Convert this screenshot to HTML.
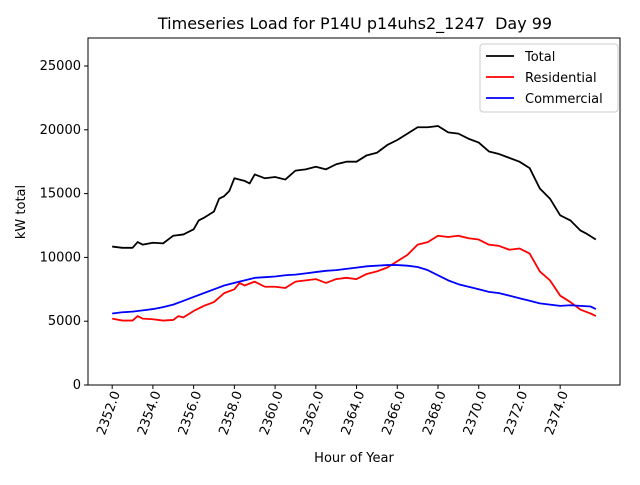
<!DOCTYPE html>
<html><head><meta charset="utf-8"><style>
body{margin:0;background:#fff;font-family:"Liberation Sans","DejaVu Sans",sans-serif}
text{white-space:pre}
</style></head><body>
<svg id="chart" width="640" height="480" xmlns="http://www.w3.org/2000/svg" font-family="DejaVu Sans, Liberation Sans, sans-serif">
<rect width="640" height="480" fill="#fff"/>
<text x="355" y="29" font-size="16" text-anchor="middle">Timeseries Load for P14U p14uhs2_1247  Day 99</text>
<g id="plot"></g>
<text transform="translate(25,212) rotate(-90)" font-size="13" text-anchor="middle">kW total</text>
<text x="354" y="462" font-size="13" text-anchor="middle">Hour of Year</text>
</svg>
<script>
const hours=[2352,2352.5,2353,2353.25,2353.5,2354,2354.5,2355,2355.5,2356,2356.25,2356.5,2357,2357.25,2357.5,2357.75,2358,2358.5,2358.75,2359,2359.5,2360,2360.5,2361,2361.5,2362,2362.5,2363,2363.5,2364,2364.5,2365,2365.5,2366,2366.5,2367,2367.5,2368,2368.5,2369,2369.5,2370,2370.5,2371,2371.5,2372,2372.5,2373,2373.5,2374,2374.5,2375,2375.25,2375.75];
const total=[10850,10750,10750,11200,11000,11150,11100,11700,11800,12200,12900,13100,13600,14600,14800,15200,16200,16000,15800,16500,16200,16300,16100,16800,16900,17100,16900,17300,17500,17500,18000,18200,18800,19200,19700,20200,20200,20300,19800,19700,19300,19000,18300,18100,17800,17500,17000,15400,14600,13300,12900,12100,11900,11400];
const resHours=[2352,2352.5,2353,2353.25,2353.5,2354,2354.5,2355,2355.25,2355.5,2356,2356.5,2357,2357.5,2358,2358.25,2358.5,2359,2359.5,2360,2360.5,2361,2361.5,2362,2362.5,2363,2363.5,2364,2364.5,2365,2365.5,2366,2366.5,2367,2367.5,2368,2368.5,2369,2369.5,2370,2370.5,2371,2371.5,2372,2372.5,2373,2373.5,2374,2374.5,2375,2375.5,2375.75];
const residential=[5200,5050,5050,5400,5200,5150,5050,5100,5400,5300,5800,6200,6500,7200,7500,8000,7800,8100,7700,7700,7600,8100,8200,8300,8000,8300,8400,8300,8700,8900,9200,9700,10200,11000,11200,11700,11600,11700,11500,11400,11000,10900,10600,10700,10300,8900,8200,7000,6500,5900,5600,5400];
const comHours=[2352,2352.5,2353,2353.5,2354,2354.5,2355,2355.5,2356,2356.5,2357,2357.5,2358,2358.5,2359,2359.5,2360,2360.5,2361,2361.5,2362,2362.5,2363,2363.5,2364,2364.5,2365,2365.5,2366,2366.5,2367,2367.5,2368,2368.5,2369,2369.5,2370,2370.5,2371,2371.5,2372,2372.5,2373,2373.5,2374,2374.5,2375,2375.5,2375.75];
const commercial=[5600,5700,5750,5850,5950,6100,6300,6600,6900,7200,7500,7800,8000,8200,8400,8450,8500,8600,8650,8750,8850,8950,9000,9100,9200,9300,9350,9400,9400,9350,9250,9000,8600,8200,7900,7700,7500,7300,7200,7000,6800,6600,6400,6300,6200,6250,6200,6150,5950];
const xTicks=[2352,2354,2356,2358,2360,2362,2364,2366,2368,2370,2372,2374];
const yTicks=[0,5000,10000,15000,20000,25000];
const L=88,R=620,T=38,B=385,X0=2350.8125,X1=2376.9375,Y1=27194;
const xs=v=>L+(v-X0)/(X1-X0)*(R-L), ys=v=>B-v/Y1*(B-T);
const NS="http://www.w3.org/2000/svg", g=document.getElementById('plot');
function mk(t,a,p){const e=document.createElementNS(NS,t);for(const k in a)e.setAttribute(k,a[k]);(p||g).appendChild(e);return e;}
function line(h,v,c,name){const e=mk('polyline',{points:h.map((x,i)=>xs(x)+','+ys(v[i])).join(' '),fill:'none',stroke:c,'stroke-width':1.8,'stroke-linejoin':'round'});

}
line(hours,total,'#000','total-line');
line(resHours,residential,'#f00','residential-line');
line(comHours,commercial,'#00f','commercial-line');
const fr=mk('rect',{x:L,y:T,width:R-L,height:B-T,fill:'none',stroke:'#000','stroke-width':1});


yTicks.forEach(v=>{const y=ys(v);mk('line',{x1:L-4,x2:L,y1:y,y2:y,stroke:'#000'});
const t=mk('text',{x:L-7,y:y+4,'font-size':13,'text-anchor':'end'});t.textContent=v;

});
xTicks.forEach(v=>{const x=xs(v);mk('line',{x1:x,x2:x,y1:B,y2:B+4,stroke:'#000'});
const t=mk('text',{transform:`translate(${x+8},${B+8}) rotate(-70)`,'font-size':13,'text-anchor':'end'});t.textContent=v.toFixed(1);

});
const lg=mk('g',{});


mk('rect',{x:480,y:44,width:138,height:68,rx:3,fill:'#fff',stroke:'#ccc'},lg);
[['Total','#000'],['Residential','#f00'],['Commercial','#00f']].forEach((d,i)=>{const y=56+i*21;
mk('line',{x1:486,x2:514,y1:y,y2:y,stroke:d[1],'stroke-width':1.8},lg);
const t=mk('text',{x:525,y:y+5,'font-size':13},lg);t.textContent=d[0];

});
</script>
</body></html>
